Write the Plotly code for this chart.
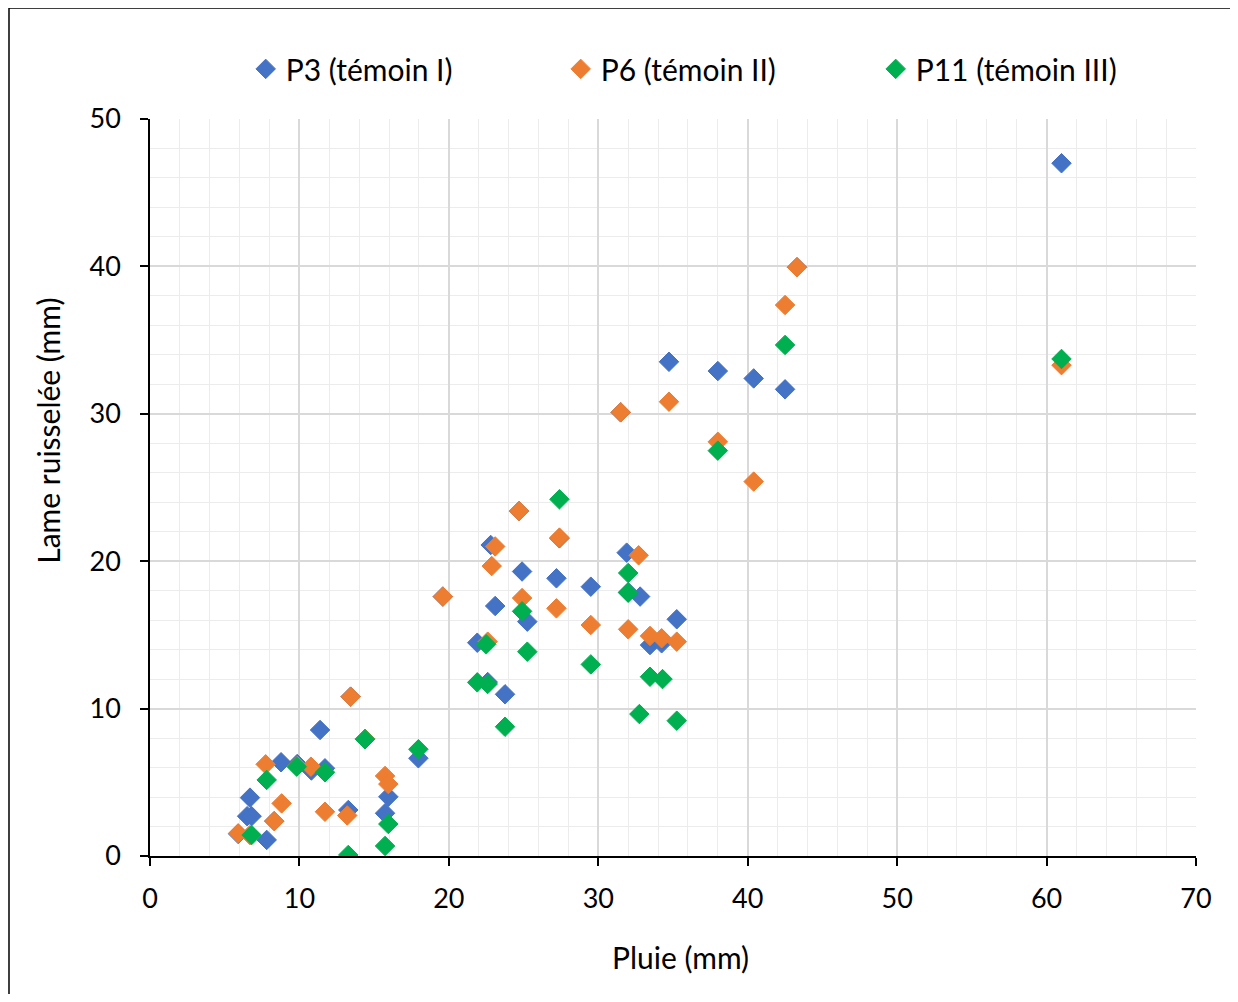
import plotly.graph_objects as go

# ---- data ----
p3_x = [5.9, 6.5, 6.8, 6.69, 7.81, 8.32, 8.77, 9.85, 10.8, 11.71, 11.38, 13.27, 13.43, 14.39,
        15.73, 15.95, 17.96, 19.6, 21.9, 22.6, 22.8, 23.1, 23.76, 24.7, 24.9, 25.25, 27.2, 27.4,
        29.5, 31.5, 31.9, 32.0, 32.8, 33.46, 34.24, 34.73, 35.25, 38.0, 40.4, 42.5, 43.3, 61.0]
p3_y = [1.5, 2.7, 2.7, 3.96, 1.09, 2.37, 6.36, 6.24, 5.8, 5.95, 8.55, 3.12, 10.81, 7.95,
        2.9, 4.02, 6.63, 17.6, 14.47, 11.8, 21.1, 16.96, 10.97, 23.4, 19.3, 15.9, 18.84, 21.55,
        18.27, 30.1, 20.58, 17.9, 17.6, 14.31, 14.43, 33.53, 16.06, 32.9, 32.4, 31.66, 39.94, 47.0]

p6_x = [5.9, 6.69, 7.74, 8.32, 8.81, 9.85, 10.77, 11.71, 13.2, 13.43, 14.39, 15.73, 15.95,
        19.6, 22.6, 22.87, 23.1, 24.7, 24.9, 27.2, 27.4, 29.5, 31.5, 32.0, 32.7, 33.46, 34.24,
        34.73, 35.25, 38.0, 40.4, 42.5, 43.3, 61.0]
p6_y = [1.54, 1.42, 6.22, 2.37, 3.57, 6.1, 6.06, 3.0, 2.75, 10.81, 7.95, 5.43, 4.88,
        17.6, 14.54, 19.67, 21.0, 23.4, 17.5, 16.8, 21.6, 15.67, 30.1, 15.38, 20.4, 14.93, 14.77,
        30.82, 14.54, 28.1, 25.4, 37.38, 39.94, 33.3]

p11_x = [6.8, 7.81, 9.82, 11.71, 13.27, 14.39, 15.73, 15.95, 17.96, 21.9, 22.5, 22.6, 23.76,
         24.9, 25.25, 27.4, 29.5, 32.0, 32.0, 32.75, 33.46, 34.3, 35.25, 38.0, 42.5, 61.0]
p11_y = [1.42, 5.16, 6.06, 5.68, 0.07, 7.92, 0.68, 2.17, 7.24, 11.78, 14.36, 11.67, 8.77,
         16.6, 13.86, 24.2, 13.0, 19.2, 17.86, 9.63, 12.16, 12.0, 9.18, 27.5, 34.67, 33.72]

series_names = ["P3 (témoin I)", "P6 (témoin II)", "P11 (témoin III)"]
series_colors = ["#4472C4", "#ED7D31", "#00B050"]

x_title = "Pluie (mm)"
y_title = "Lame ruisselée (mm)"

FONT = "Lato"

fig = go.Figure()
for name, xs, ys, col in zip(series_names, [p3_x, p6_x, p11_x], [p3_y, p6_y, p11_y], series_colors):
    fig.add_trace(go.Scatter(
        x=xs, y=ys, mode="markers", name=name,
        marker=dict(symbol="diamond", size=15, color=col, line=dict(color=col, width=1)),
    ))

axis_common = dict(
    showgrid=True, gridcolor="#d9d9d9", gridwidth=1.5,
    minor=dict(showgrid=True, gridcolor="#ececec", gridwidth=1.2),
    showline=True, linecolor="black", linewidth=1.5,
    ticks="outside", ticklen=8, tickcolor="black", tickwidth=1.5,
    tickfont=dict(family=FONT, size=27, color="black"),
    zeroline=False,
)

fig.update_xaxes(range=[0, 70], dtick=10, minor_dtick=2, ticklabelstandoff=10, **axis_common)
fig.update_yaxes(range=[0, 50], dtick=10, minor_dtick=2, ticklabelstandoff=14, **axis_common)

fig.update_layout(
    width=1222, height=986,
    margin=dict(l=142, r=34, t=111, b=138),
    plot_bgcolor="white", paper_bgcolor="white",
    font=dict(family=FONT, color="black"),
    showlegend=True,
    legend=dict(
        orientation="h", x=0.0915, xanchor="left", y=1.068, yanchor="middle",
        font=dict(family=FONT, size=30, color="black"),
        entrywidth=270, entrywidthmode="pixels", itemwidth=30,
        bgcolor="rgba(0,0,0,0)",
    ),
    annotations=[
        dict(text=x_title, xref="paper", yref="paper", x=0.507, y=-0.137,
             showarrow=False, font=dict(family=FONT, size=30, color="black"),
             xanchor="center", yanchor="middle"),
        dict(text=y_title, xref="paper", yref="paper", x=-0.0975, y=0.577,
             showarrow=False, textangle=-90, font=dict(family=FONT, size=30, color="black"),
             xanchor="center", yanchor="middle"),
    ],
    shapes=[
        dict(type="rect", xref="paper", yref="paper",
             x0=-0.1348, y0=-0.6, x1=1.2, y1=1.1506,
             line=dict(color="black", width=1.5), fillcolor="rgba(0,0,0,0)", layer="below"),
    ],
)

fig.write_html("out.html")
